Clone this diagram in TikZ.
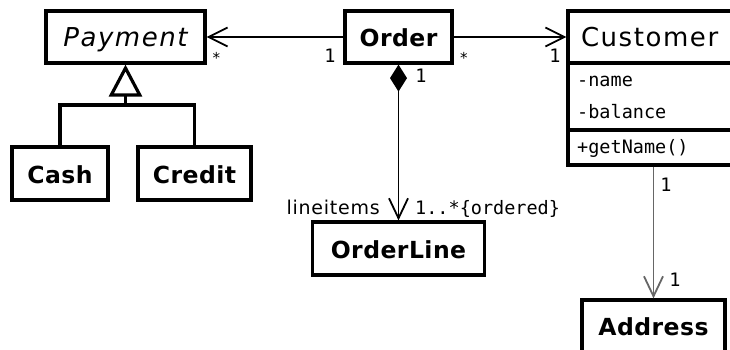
\documentclass[tikz,border=0pt]{standalone}
\usepackage{fontspec}
\setmainfont{DejaVu Sans}
\setmonofont{DejaVu Sans Mono}
\newfontfamily\clsfont{DejaVu Sans}[LetterSpace=2]
\newfontfamily\hdrfont{DejaVu Sans}[LetterSpace=6]
\newfontfamily\lblfont{DejaVu Sans}[LetterSpace=4]
\usetikzlibrary{arrows.meta}
\begin{document}
\begin{tikzpicture}[x=1pt,y=-1pt,
  cls/.style={draw, line width=3.2pt, inner sep=0pt, text height=19pt, text depth=0pt,
    font=\clsfont\bfseries\fontsize{23.5}{24}\selectfont},
  hdr/.style={cls, font=\hdrfont\fontsize{26}{27}\selectfont},
  compart/.style={draw, line width=3.2pt, inner sep=0pt},
  conn/.style={line width=1.8pt},
  navarrow/.style={conn, -{Straight Barb[length=19pt,width=19pt]}},
  mono/.style={inner sep=0pt, font=\ttfamily\fontsize{18.5}{20}\selectfont},
  starlbl/.style={inner sep=0pt, font=\ttfamily\fontsize{15}{15}\selectfont},
  rolelbl/.style={inner sep=0pt, font=\lblfont\fontsize{19}{20}\selectfont},
]
\useasboundingbox (0,0) rectangle (730,350);
\clip (0,0) rectangle (730,350);
\fill[white] (0,0) rectangle (730,350);

% classes
\node[hdr, font=\hdrfont\itshape\fontsize{26}{27}\selectfont, minimum width=159pt, minimum height=52pt] (payment) at (125.5,37) {Payment};
\node[cls, minimum width=107pt, minimum height=52pt] (order) at (398.5,37) {Order};
\node[hdr, minimum width=192pt, minimum height=52pt, text width=166pt, align=left] (customer) at (664,37) {Customer};
\node[compart, minimum width=192pt, minimum height=67pt] (custattr) at (664,96.5) {};
\node[compart, minimum width=192pt, minimum height=35pt] (custops) at (664,147.5) {};
\node[cls, minimum width=96pt, minimum height=53pt] (cash) at (60,173.5) {Cash};
\node[cls, minimum width=113pt, minimum height=53pt] (credit) at (194.5,173.5) {Credit};
\node[cls, minimum width=172pt, minimum height=53pt] (orderline) at (398.5,248.5) {OrderLine};
\node[cls, minimum width=143pt, minimum height=52pt] (address) at (653.5,326) {Address};

% customer members
\node[mono, anchor=base west] (aname) at (577,86.7) {-name};
\node[mono, anchor=base west] (abal) at (577,118) {-balance};
\node[mono, anchor=base west] (ogetname) at (577,153) {+getName()};

% generalization
\coordinate (gj) at (125.5,105);
\draw[line width=3.2pt] (cash.north) |- (gj) -| (credit.north);
\draw[line width=3.2pt, -{Triangle[open,length=32pt,width=33pt]}] (gj) -- (payment.south);

% associations
\draw[navarrow] (order.west) -- (payment.east);
\draw[navarrow] (order.east) -- (customer.west);
\draw[conn, {Diamond[length=27pt,width=17pt]}-{Straight Barb[length=20pt,width=19pt]}] (order.south) -- (orderline.north);
\draw[conn, draw=black!60, -{Straight Barb[length=20pt,width=19pt]}] (address.north |- custops.south) -- (address.north);

% multiplicities and roles
\node[starlbl] (mpay) at (216.5,58) {*};
\node[mono] (mordl) at (330,56) {1};
\node[starlbl] (mordr) at (464,58) {*};
\node[mono] (mcust) at (555,56) {1};
\node[mono] (mcomp) at (421,76) {1};
\node[rolelbl, anchor=base east] (rline) at (380,214) {lineitems};
\node[mono, anchor=base west] (mline) at (415,214) {1..*\{ordered\}};
\node[mono] (mcaddr) at (666,184.5) {1};
\node[mono] (maddr) at (675,280) {1};
\end{tikzpicture}
\end{document}
